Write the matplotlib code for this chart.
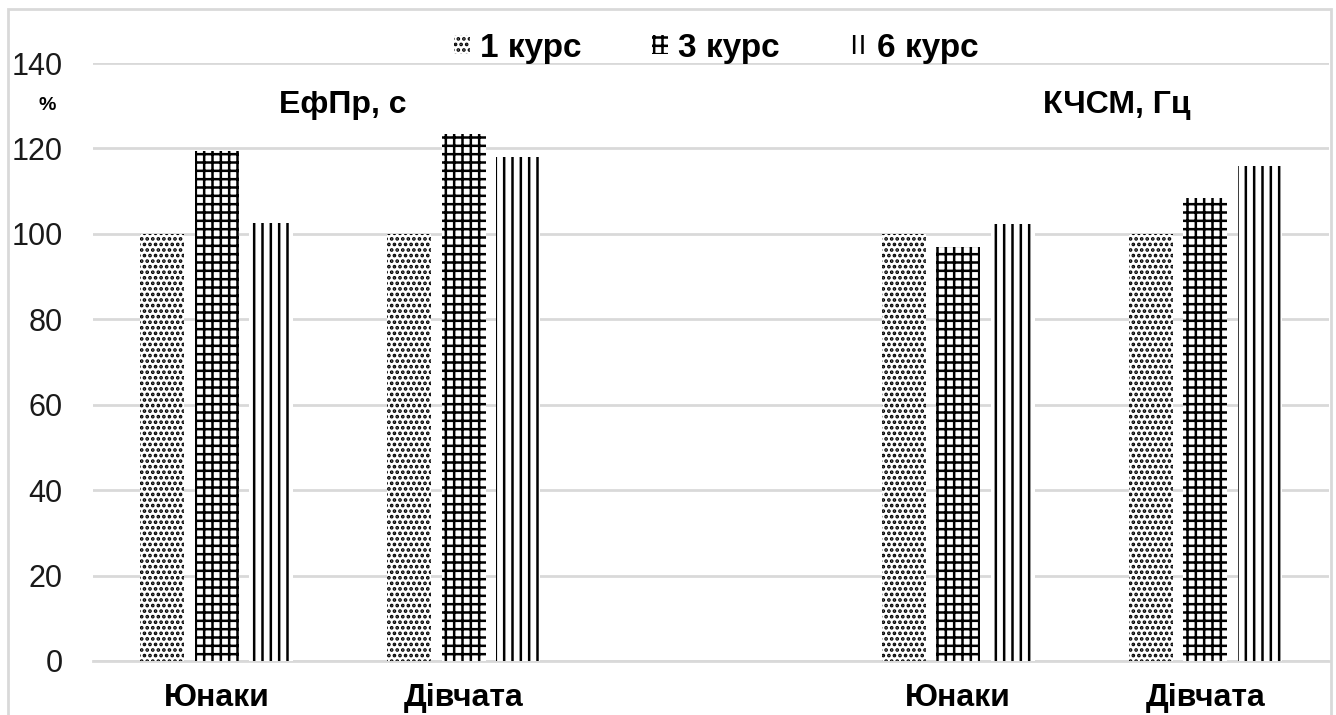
import matplotlib
matplotlib.use('Agg')
import matplotlib.pyplot as plt
from matplotlib.patches import Rectangle, Patch
import numpy as np

plt.rcParams['font.family'] = ['Liberation Sans', 'DejaVu Sans']
plt.rcParams['hatch.linewidth'] = 1.8

# categories (empty slot separates the two indicators)
categories = ["Юнаки", "Дівчата", "", "Юнаки", "Дівчата"]
series = ["1 курс", "3 курс", "6 курс"]
kurs1 = [100, 100, np.nan, 100, 100]
kurs3 = [119.4, 123.4, np.nan, 96.9, 108.5]
kurs6 = [102.5, 118.0, np.nan, 102.3, 115.8]
hatches = ["...", "++", "||"]
panel_titles = ["ЕфПр, с", "КЧСМ, Гц"]

fig = plt.figure(figsize=(13.36, 7.15), dpi=100)
ax = fig.add_axes([93 / 1336, 1 - 661 / 715, (1329 - 93) / 1336, (661 - 63) / 715])

x = np.arange(len(categories))
width = 0.178
step = 0.22
for i, (vals, h) in enumerate(zip([kurs1, kurs3, kurs6], hatches)):
    ax.bar(x + (i - 1) * step, vals, width, color='white', edgecolor='black',
           linewidth=0, hatch=h, zorder=3)

ax.set_xlim(-0.5, len(categories) - 0.5)
ax.set_ylim(0, 140)
ax.set_yticks(range(0, 141, 20))
ax.grid(axis='y', color='#d9d9d9', linewidth=2, zorder=0)
for s in ['top', 'right', 'left']:
    ax.spines[s].set_visible(False)
ax.spines['bottom'].set_color('#d9d9d9')
ax.spines['bottom'].set_linewidth(2)
ax.tick_params(length=0)
ax.tick_params(axis='y', labelsize=22, pad=22, labelcolor='#1a1a1a')
ax.set_xticks(x)
ax.set_xticklabels(categories, fontsize=23, fontweight='bold')
ax.tick_params(axis='x', pad=16)

fig.text(343 / 1336, 1 - 105 / 715, panel_titles[0], fontsize=23, fontweight='bold',
         ha='center', va='center')
fig.text(1117 / 1336, 1 - 105 / 715, panel_titles[1], fontsize=23, fontweight='bold',
         ha='center', va='center')
fig.text(47 / 1336, 1 - 105 / 715, "%", fontsize=14, fontweight='bold',
         ha='center', va='center')

handles = [Patch(facecolor='white', edgecolor='black', linewidth=0, hatch=h) for h in hatches]
fig.legend(handles, series, loc='center', bbox_to_anchor=(716 / 1336, 1 - 48 / 715),
           ncol=3, frameon=False, prop={'size': 24, 'weight': 'bold'},
           handlelength=0.5, handleheight=0.5, handletextpad=0.3, columnspacing=2.1)

fig.patches.append(Rectangle((8 / 1336, -0.1), (1331 - 8) / 1336, 1.1 - 9 / 715,
                             transform=fig.transFigure, fill=False,
                             edgecolor='#d9d9d9', linewidth=2))

fig.savefig("out.png", dpi=100)
plt.close(fig)
